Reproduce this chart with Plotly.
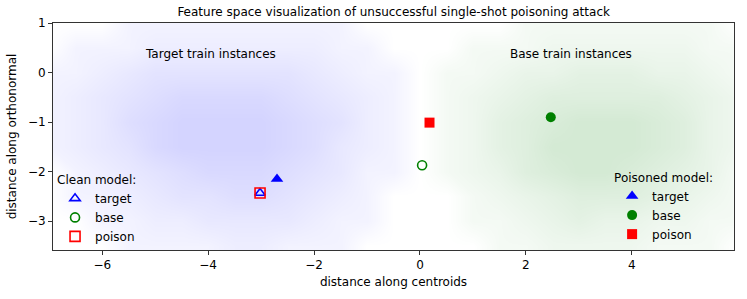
import plotly.graph_objects as go

# ---- data ----
# density grids (relative point density, 0-7) of the training clouds
target_grid_x = [-7, -6.5, -6, -5.5, -5, -4.5, -4, -3.5, -3, -2.5, -2, -1.5, -1, -0.5, 0]
base_grid_x = [0, 0.5, 1, 1.5, 2, 2.5, 3, 3.5, 4, 4.5, 5, 5.5, 6]
grid_y = [1.0, 0.5, 0.0, -0.5, -1.0, -1.5, -2.0, -2.5, -3.0, -3.5]
target_density = [
    [0, 0, 0, 1, 1, 1, 1, 1, 1, 1, 1, 1, 0, 0, 0],
    [0, 1, 1, 1, 2, 2, 2, 2, 2, 2, 2, 1, 1, 0, 0],
    [1, 1, 2, 3, 4, 4, 4, 4, 4, 4, 3, 2, 1, 1, 0],
    [1, 2, 3, 4, 5, 6, 6, 6, 6, 5, 4, 3, 2, 1, 0],
    [1, 2, 3, 5, 6, 7, 7, 7, 7, 6, 5, 4, 2, 1, 0],
    [1, 2, 3, 4, 6, 7, 7, 7, 7, 6, 5, 3, 2, 1, 0],
    [0, 1, 2, 3, 4, 5, 6, 6, 6, 5, 4, 3, 1, 1, 0],
    [0, 1, 1, 2, 3, 4, 4, 5, 5, 4, 3, 2, 1, 0, 0],
    [0, 0, 1, 1, 2, 2, 3, 3, 3, 3, 2, 1, 1, 0, 0],
    [0, 0, 0, 1, 1, 1, 1, 2, 2, 1, 1, 1, 0, 0, 0],
]
base_density = [
    [0, 0, 0, 0, 1, 1, 1, 1, 1, 1, 1, 1, 0],
    [0, 0, 1, 1, 1, 2, 2, 2, 2, 2, 2, 1, 1],
    [0, 1, 1, 2, 3, 3, 4, 4, 4, 3, 3, 2, 1],
    [0, 1, 2, 3, 4, 5, 5, 5, 5, 5, 4, 3, 2],
    [0, 1, 2, 4, 5, 6, 7, 7, 7, 6, 5, 3, 2],
    [0, 1, 2, 4, 5, 7, 7, 7, 7, 6, 5, 3, 2],
    [0, 1, 2, 3, 5, 6, 7, 7, 6, 5, 4, 3, 1],
    [0, 0, 1, 2, 3, 4, 5, 5, 5, 4, 3, 2, 1],
    [0, 0, 1, 1, 2, 3, 4, 3, 3, 2, 2, 1, 1],
    [0, 0, 0, 1, 1, 2, 2, 2, 2, 1, 1, 1, 0],
]

labels = ["target", "base", "poison"]
clean_x = [-3.02, 0.04, -3.02]
clean_y = [-2.43, -1.87, -2.43]
poisoned_x = [-2.7, 2.47, 0.18]
poisoned_y = [-2.15, -0.9, -1.01]

cloud_labels = ["Target train instances", "Base train instances"]
cloud_label_x = [-3.95, 2.85]
cloud_label_y = [0.38, 0.38]

colors = ["blue", "green", "red"]
clean_symbols = ["triangle-up-open", "circle-open", "square-open"]
poisoned_symbols = ["triangle-up", "circle", "square"]

FONT = "DejaVu Sans"
FS = 12

fig = go.Figure()

fig.add_trace(go.Heatmap(
    x=target_grid_x, y=grid_y, z=target_density, zmin=0, zmax=7,
    zsmooth="best", showscale=False, hoverinfo="skip",
    colorscale=[[0, "rgba(0,0,255,0)"], [0.15, "rgba(0,0,255,0.05)"], [1, "rgba(0,0,255,0.17)"]],
))
fig.add_trace(go.Heatmap(
    x=base_grid_x, y=grid_y, z=base_density, zmin=0, zmax=7,
    zsmooth="best", showscale=False, hoverinfo="skip",
    colorscale=[[0, "rgba(0,128,0,0)"], [0.15, "rgba(0,128,0,0.045)"], [1, "rgba(0,128,0,0.17)"]],
))

clean_sizes = [9, 9, 10]
poison_sizes = [11, 10, 10]
for i, lab in enumerate(labels):
    fig.add_trace(go.Scatter(
        x=[clean_x[i]], y=[clean_y[i]], mode="markers", name=lab,
        marker=dict(symbol=clean_symbols[i], color=colors[i], size=clean_sizes[i],
                    line=dict(color=colors[i], width=1.6)),
        legend="legend",
    ))
for i, lab in enumerate(labels):
    fig.add_trace(go.Scatter(
        x=[poisoned_x[i]], y=[poisoned_y[i]], mode="markers", name=lab,
        marker=dict(symbol=poisoned_symbols[i], color=colors[i], size=poison_sizes[i],
                    line=dict(width=0)),
        legend="legend2",
    ))

for t, x, y in zip(cloud_labels, cloud_label_x, cloud_label_y):
    fig.add_annotation(x=x, y=y, text=t, showarrow=False,
                       font=dict(family=FONT, size=FS, color="black"))

axis_common = dict(
    showgrid=False, zeroline=False, showline=True, linecolor="#333", linewidth=1,
    mirror=True, ticks="outside", ticklen=4, tickcolor="#333",
    tickfont=dict(family=FONT, size=FS, color="black"),
)
fig.update_xaxes(range=[-6.93, 5.93], tickvals=[-6, -4, -2, 0, 2, 4],
                 title=dict(text="distance along centroids", standoff=6,
                            font=dict(family=FONT, size=FS, color="black")),
                 **axis_common)
fig.update_yaxes(range=[-3.58, 1.0], tickvals=[-3, -2, -1, 0, 1],
                 title=dict(text="distance along orthonormal", standoff=8,
                            font=dict(family=FONT, size=FS, color="black")),
                 **axis_common)

legend_common = dict(
    bgcolor="rgba(255,255,255,0)", borderwidth=0, yanchor="top",
    font=dict(family=FONT, size=FS, color="black"),
    tracegroupgap=0, itemsizing="trace",
)
fig.update_layout(
    width=747, height=299,
    margin=dict(l=53, r=13, t=23, b=49),
    plot_bgcolor="white", paper_bgcolor="white",
    title=dict(text="Feature space visualization of unsuccessful single-shot poisoning attack",
               x=0.527, xanchor="center", y=0.96, yanchor="middle",
               font=dict(family=FONT, size=FS, color="black")),
    legend=dict(x=0.003, y=0.36, xanchor="left",
                title=dict(text="Clean model:", font=dict(family=FONT, size=FS, color="black")),
                **legend_common),
    legend2=dict(x=0.821, y=0.37, xanchor="left",
                 title=dict(text="Poisoned model:", font=dict(family=FONT, size=FS, color="black")),
                 **legend_common),
    showlegend=True,
)

fig.write_html("out.html", config={"displayModeBar": False})

# remove the default page margin so the figure sits at the window's top-left corner
with open("out.html", "r", encoding="utf-8") as f:
    html = f.read()
html = html.replace("<body>", '<body style="margin:0;padding:0;">', 1)
with open("out.html", "w", encoding="utf-8") as f:
    f.write(html)
